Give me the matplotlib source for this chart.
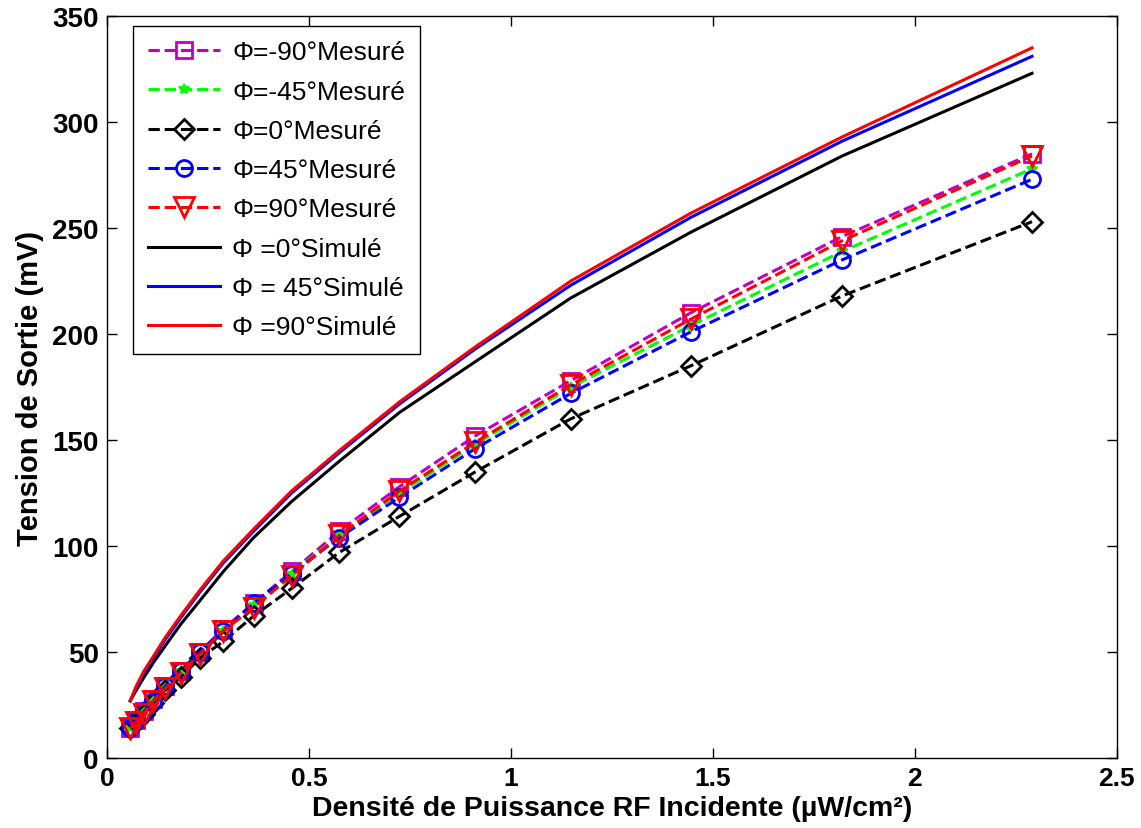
import numpy as np
import matplotlib
matplotlib.use("Agg")
import matplotlib.pyplot as plt

plt.rcParams["font.family"] = ["Liberation Sans", "DejaVu Sans"]

# incident RF power density [uW/cm^2]
x_pts = [0.0575, 0.0724, 0.0912, 0.1148, 0.1445, 0.182, 0.229, 0.288, 0.363,
         0.457, 0.575, 0.724, 0.912, 1.148, 1.445, 1.82, 2.29]

# measured output voltage [mV]
mes_m90 = [14, 18, 22, 28, 34, 41, 50, 61, 73, 88, 107, 128, 152, 178, 210, 246, 285]
mes_m45 = [14, 18, 22, 27, 33, 41, 49, 60, 72, 87, 105, 125, 148, 175, 204, 239, 278]
mes_0 = [14, 17, 21, 26, 32, 38, 47, 55, 67, 80, 97, 114, 135, 160, 185, 218, 253]
mes_45 = [14, 18, 22, 27, 34, 41, 50, 60, 73, 87, 104, 123, 146, 172, 201, 235, 273]
mes_90 = [14, 17, 21, 27, 33, 40, 49, 60, 71, 86, 105, 126, 149, 176, 207, 244, 284]

# simulated output voltage [mV]
sim_0 = [27, 32, 38, 45, 53, 63, 74, 88, 104, 121, 140, 163, 187, 217, 248, 284, 323]
sim_45 = [27, 33, 40, 47, 56, 66, 78, 92, 107, 125, 144, 167, 193, 223, 255, 291, 331]
sim_90 = [27, 34, 41, 48, 57, 67, 79, 93, 108, 126, 145, 168, 194, 225, 257, 293, 335]

fig = plt.figure(figsize=(11.41, 8.29), dpi=100)
ax = fig.add_axes([0.0938, 0.0844, 0.885, 0.895])

LW = 2.2
MEW = 2.0

ax.plot(x_pts, mes_m90, "--", color="#c000c0", lw=LW, marker="s", ms=11,
        mfc="none", mew=MEW, label="Φ=-90°Mesuré")
ax.plot(x_pts, mes_m45, "--", color="#00ff00", lw=LW, marker="*", ms=7,
        mew=1.5, label="Φ=-45°Mesuré")
ax.plot(x_pts, mes_0, "--", color="black", lw=LW, marker="D", ms=10.5,
        mfc="none", mew=MEW, label="Φ=0°Mesuré")
ax.plot(x_pts, mes_45, "--", color="#0000ff", lw=LW, marker="o", ms=11.5,
        mfc="none", mew=MEW, label="Φ=45°Mesuré")
ax.plot(x_pts, mes_90, "--", color="#ff0000", lw=LW, marker="v", ms=14,
        mfc="none", mew=MEW, label="Φ=90°Mesuré")

ax.plot(x_pts, sim_0, "-", color="black", lw=LW, label="Φ =0°Simulé")
ax.plot(x_pts, sim_45, "-", color="#0000ff", lw=LW, label="Φ = 45°Simulé")
ax.plot(x_pts, sim_90, "-", color="#ff0000", lw=LW, label="Φ =90°Simulé")

ax.set_xlim(0, 2.5)
ax.set_ylim(0, 350)
ax.set_xticks([0, 0.5, 1, 1.5, 2, 2.5])
ax.set_xticklabels(["0", "0.5", "1", "1.5", "2", "2.5"])
ax.set_yticks(np.arange(0, 351, 50))

ax.tick_params(direction="in", length=7, width=1, top=True, right=True, pad=6)
ax.tick_params(axis="x", labelsize=19)
ax.tick_params(axis="y", labelsize=20)
for lab in ax.get_xticklabels() + ax.get_yticklabels():
    lab.set_fontweight("bold")
for sp in ax.spines.values():
    sp.set_linewidth(1.0)

ax.set_xlabel("Densité de Puissance RF Incidente (µW/cm²)", fontsize=20.5,
              fontweight="bold", labelpad=3)
ax.set_ylabel("Tension de Sortie (mV)", fontsize=21, fontweight="bold",
              labelpad=6)

leg = ax.legend(loc="upper left", bbox_to_anchor=(0.026, 0.987), fontsize=19,
                handlelength=2.75, labelspacing=0.58, borderpad=0.55,
                handletextpad=0.45, fancybox=False, framealpha=1,
                edgecolor="black", borderaxespad=0)
leg.get_frame().set_linewidth(1.0)

fig.savefig("out.png", dpi=100)
